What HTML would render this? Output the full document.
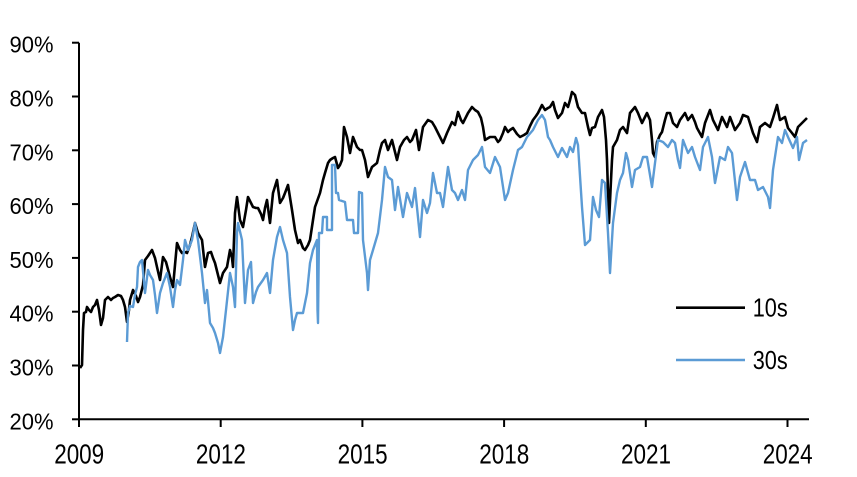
<!DOCTYPE html>
<html>
<head>
<meta charset="utf-8">
<style>
html,body{margin:0;padding:0;background:#fff;}
svg{display:block;}
text{font-family:"Liberation Sans",Arial,sans-serif;fill:#000;}
</style>
</head>
<body>
<svg width="857" height="477" viewBox="0 0 857 477" xmlns="http://www.w3.org/2000/svg">
<rect width="857" height="477" fill="#fff"/>
<!-- y labels -->
<g font-size="23.5" text-anchor="end">
<text x="53.5" y="52.7" textLength="44" lengthAdjust="spacingAndGlyphs">90%</text>
<text x="53.5" y="106.5" textLength="44" lengthAdjust="spacingAndGlyphs">80%</text>
<text x="53.5" y="160.3" textLength="44" lengthAdjust="spacingAndGlyphs">70%</text>
<text x="53.5" y="214.1" textLength="44" lengthAdjust="spacingAndGlyphs">60%</text>
<text x="53.5" y="267.9" textLength="44" lengthAdjust="spacingAndGlyphs">50%</text>
<text x="53.5" y="321.7" textLength="44" lengthAdjust="spacingAndGlyphs">40%</text>
<text x="53.5" y="375.5" textLength="44" lengthAdjust="spacingAndGlyphs">30%</text>
<text x="53.5" y="429.3" textLength="44" lengthAdjust="spacingAndGlyphs">20%</text>
</g>
<!-- x labels -->
<g font-size="28">
<text x="54.2" y="463.3" textLength="50" lengthAdjust="spacingAndGlyphs">2009</text>
<text x="195.9" y="463.3" textLength="50" lengthAdjust="spacingAndGlyphs">2012</text>
<text x="337.6" y="463.3" textLength="50" lengthAdjust="spacingAndGlyphs">2015</text>
<text x="479.3" y="463.3" textLength="50" lengthAdjust="spacingAndGlyphs">2018</text>
<text x="621" y="463.3" textLength="50" lengthAdjust="spacingAndGlyphs">2021</text>
<text x="762.7" y="463.3" textLength="50" lengthAdjust="spacingAndGlyphs">2024</text>
</g>
<!-- axes -->
<g stroke="#000" stroke-width="2" fill="none">
<line x1="79" y1="42.7" x2="79" y2="420"/>
<line x1="78" y1="419.3" x2="809" y2="419.3"/>
<line x1="72" y1="42.7" x2="79" y2="42.7"/>
<line x1="72" y1="96.5" x2="79" y2="96.5"/>
<line x1="72" y1="150.3" x2="79" y2="150.3"/>
<line x1="72" y1="204.1" x2="79" y2="204.1"/>
<line x1="72" y1="257.9" x2="79" y2="257.9"/>
<line x1="72" y1="311.7" x2="79" y2="311.7"/>
<line x1="72" y1="365.5" x2="79" y2="365.5"/>
<line x1="72" y1="419.3" x2="79" y2="419.3"/>
<line x1="79" y1="419" x2="79" y2="427"/>
<line x1="220.7" y1="419" x2="220.7" y2="427"/>
<line x1="362.4" y1="419" x2="362.4" y2="427"/>
<line x1="504.1" y1="419" x2="504.1" y2="427"/>
<line x1="645.8" y1="419" x2="645.8" y2="427"/>
<line x1="787.5" y1="419" x2="787.5" y2="427"/>
</g>
<!-- 10s -->
<polyline fill="none" stroke="#000" stroke-width="2.6" stroke-linejoin="round" points="
80,368 82,365 83,330 84,313 86,312 87,307 89,310 91,312 93,307 95,305 97,300 99,310 101,325 103,318 105,300 108,297 111,300 113,298 115,297 118,295 121,296 123,300 125,307 127,322 129,310 130,300 133,290 136,296 138,302 140,297 143,285 145,260 148,256 152,250 155,258 157,267 160,280 163,257 166,262 170,277 173,287 175,265 177,243 180,250 182,253 185,252 187,253 190,245 192,237 195,223 198,233 202,240 205,267 208,253 211,252 213,258 215,263 218,275 220,283 223,273 227,267 230,250 232,258 233,267 235,213 237,197 240,220 243,227 246,210 248,197 251,203 253,207 256,208 258,208 261,214 263,220 265,208 267,200 270,223 273,193 277,180 280,203 283,198 285,193 288,185 292,210 295,230 298,243 300,240 303,248 305,250 308,245 310,240 313,220 315,207 320,193 323,180 325,173 328,163 330,160 333,158 335,157 338,168 340,165 342,160 344,127 347,137 350,153 353,137 357,147 360,150 362,150 365,160 368,177 372,167 377,163 380,150 382,143 385,140 388,150 392,140 395,152 397,160 400,147 404,140 407,137 410,142 412,140 416,130 419,150 423,127 428,120 432,122 435,127 440,137 443,143 447,133 452,122 455,125 458,112 461,120 463,123 468,113 472,107 475,110 478,112 481,118 483,127 485,140 490,137 495,137 498,142 500,140 503,133 505,127 508,132 510,130 513,128 517,134 520,137 524,135 527,133 530,126 533,120 536,116 538,113 542,105 545,110 548,108 550,107 553,102 555,110 558,118 562,113 565,103 568,107 570,100 572,92 575,95 578,107 582,113 585,113 588,127 590,135 592,128 595,127 598,117 602,110 604,117 606,140 607,160 609,223 611,180 612,160 613,147 617,140 620,130 623,127 627,133 630,113 635,107 638,113 642,123 647,113 650,120 652,140 653,153 655,157 657,142 660,135 662,132 665,120 667,113 670,113 673,123 677,127 680,120 685,113 688,120 692,115 695,122 697,128 702,137 705,123 710,110 713,120 718,130 722,117 727,127 730,117 735,130 740,123 743,115 748,117 753,133 757,142 760,127 765,123 770,127 773,118 777,105 780,120 785,117 788,128 792,133 795,137 798,127 802,123 805,120 807,118"/>
<!-- 30s -->
<polyline fill="none" stroke="#5B9BD5" stroke-width="2.4" stroke-linejoin="round" points="
127,342 128,313 130,306 133,307 135,295 137,287 138,267 140,262 142,260 145,293 148,270 150,275 153,280 155,295 157,313 160,293 163,283 167,273 170,287 173,307 175,290 177,280 180,285 183,260 185,240 188,250 192,240 195,223 198,240 202,273 205,303 207,290 210,323 213,328 215,333 218,343 220,353 223,337 226,310 230,273 233,287 235,307 237,233 238,223 242,240 245,303 248,270 251,262 253,303 256,292 258,287 263,280 267,273 270,293 273,260 277,237 280,227 283,240 287,253 290,297 293,330 295,320 297,313 300,313 303,313 307,293 310,263 313,250 317,240 317.5,310 318,323 319,233 322,233 323,217 327,217 327,230 332,230 332,165 335,165 336,193 338,193 339,200 345,202 347,220 353,220 354,233 358,233 359,192 362,193 363,240 367,273 368,290 370,260 373,250 378,233 382,200 385,167 388,177 392,180 395,210 398,187 403,217 407,193 412,207 415,188 420,237 423,200 427,213 430,203 433,173 437,193 440,193 443,207 448,167 452,190 455,193 458,200 462,190 465,200 468,170 473,160 478,155 482,147 485,167 490,173 495,157 500,167 505,200 508,193 513,170 518,150 522,147 527,137 533,130 538,120 542,115 545,120 548,137 550,140 553,147 558,157 562,148 567,157 570,147 573,152 576,138 578,145 582,207 585,245 590,240 593,197 596,210 599,217 602,180 605,183 608,233 610,273 613,223 617,193 620,180 623,173 626,153 628,160 632,187 635,170 640,167 643,157 647,157 652,187 655,163 658,140 663,142 668,147 672,140 675,143 678,160 680,168 683,140 688,153 692,147 695,157 700,170 703,147 708,137 712,157 715,183 720,157 725,160 728,147 732,153 737,200 740,177 745,162 750,180 755,180 758,190 763,187 768,197 770,208 773,170 778,137 782,143 785,130 788,137 793,148 797,137 799,160 803,143 807,140"/>
<!-- legend -->
<line x1="676" y1="307.7" x2="745" y2="307.7" stroke="#000" stroke-width="2.6"/>
<line x1="676" y1="360" x2="745" y2="360" stroke="#5B9BD5" stroke-width="2.4"/>
<g font-size="26">
<text x="752.7" y="316.7" textLength="35" lengthAdjust="spacingAndGlyphs">10s</text>
<text x="752.7" y="369" textLength="35" lengthAdjust="spacingAndGlyphs">30s</text>
</g>
</svg>
</body>
</html>
